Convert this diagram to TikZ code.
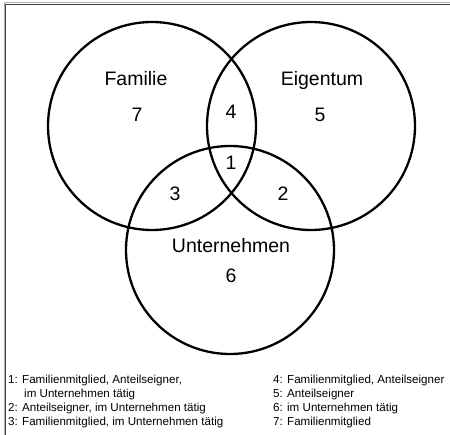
\documentclass[tikz,border=0pt]{standalone}
\usepackage{fontspec}
\setmainfont{Liberation Sans}
\begin{document}
\begin{tikzpicture}[x=1pt,y=-1pt,
  ring/.style={draw=black,line width=2.3pt,circle,minimum size=208pt,inner sep=0pt},
  biglabel/.style={font=\fontsize{19.5}{22}\selectfont,inner sep=0pt,anchor=base},
  legend/.style={font=\fontsize{11.6}{13}\selectfont,inner sep=0pt,anchor=base west}]
\useasboundingbox (0,0) rectangle (450,435);
\fill[white] (0,0) rectangle (450,435);
% frame
\draw[gray!60,line width=1pt] (4,435) -- (4,3) -- (450,3);
\draw[black!75,line width=1.2pt] (5.5,435) -- (5.5,4.5) -- (450,4.5);
% circles
\node[ring] (fam) at (152,126) {};
\node[ring] (eig) at (311,126) {};
\node[ring] (unt) at (230,250) {};
% labels
\node[biglabel] (lfam) at (136,86) {Familie};
\node[biglabel] (leig) at (322,86) {Eigentum};
\node[biglabel] (lunt) at (231,253) {Unternehmen};
\node[biglabel] (n7) at (137,122) {7};
\node[biglabel] (n4) at (231,119) {4};
\node[biglabel] (n5) at (320,122) {5};
\node[biglabel] (n1) at (231,170) {1};
\node[biglabel] (n3) at (175,201) {3};
\node[biglabel] (n2) at (283,201) {2};
\node[biglabel] (n6) at (231,283) {6};
% legend
\node[legend] (l1a) at (8,384) {1: Familienmitglied, Anteilseigner,};
\node[legend] (l1b) at (24,397.7) {im Unternehmen tätig};
\node[legend] (l2) at (8,411.4) {2: Anteilseigner, im Unternehmen tätig};
\node[legend] (l3) at (8,425.1) {3: Familienmitglied, im Unternehmen tätig};
\node[legend] (l4) at (273,384) {4: Familienmitglied, Anteilseigner};
\node[legend] (l5) at (273,397.7) {5: Anteilseigner};
\node[legend] (l6) at (273,411.4) {6: im Unternehmen tätig};
\node[legend] (l7) at (273,425.1) {7: Familienmitglied};
\end{tikzpicture}
\end{document}
